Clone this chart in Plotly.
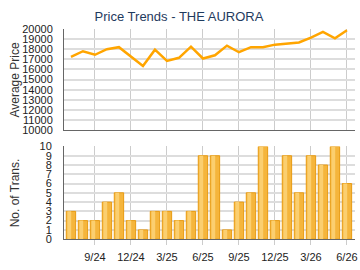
import plotly.graph_objects as go

months = ["7/24","8/24","9/24","10/24","11/24","12/24","1/25","2/25","3/25","4/25","5/25","6/25",
          "7/25","8/25","9/25","10/25","11/25","12/25","1/26","2/26","3/26","4/26","5/26","6/26"]
avg_price = [17250, 17800, 17450, 18000, 18200, 17300, 16350, 17950, 16850, 17150, 18250, 17080,
             17400, 18350, 17700, 18200, 18200, 18450, 18570, 18670, 19150, 19700, 19080, 19870]
transactions = [3, 2, 2, 4, 5, 2, 1, 3, 3, 2, 3, 9, 9, 1, 4, 5, 10, 2, 9, 5, 9, 8, 10, 6]
tick_labels = ["9/24", "12/24", "3/25", "6/25", "9/25", "12/25", "3/26", "6/26"]

idx = list(range(len(months)))
tick_idx = [months.index(t) for t in tick_labels]

W, H = 360, 270
L, R = 64, 5
PW = W - L - R
def ydom(top_px, bot_px):
    return [1 - bot_px / H, 1 - top_px / H]

fig = go.Figure()
fig.add_trace(go.Scatter(x=idx, y=avg_price, mode="lines",
                         line=dict(color="#FFA500", width=2.5),
                         xaxis="x", yaxis="y", hoverinfo="skip"))
fig.add_trace(go.Bar(x=idx, y=transactions, width=0.78,
                     marker=dict(color="#F5B53C", line=dict(color="#E89B12", width=1)),
                     xaxis="x2", yaxis="y2", hoverinfo="skip"))
# highlight stripe for a gradient-like look
fig.add_trace(go.Bar(x=idx, y=transactions, width=0.32, offset=-0.3,
                     marker=dict(color="#FBCF70", line=dict(width=0)),
                     xaxis="x2", yaxis="y2", hoverinfo="skip"))

font_family = "Liberation Sans, Arial, sans-serif"
xr = [-0.58, 23.67]
common_x = dict(range=xr, tickvals=tick_idx, showgrid=True, gridcolor="#CCCCCC", gridwidth=1,
                showline=True, linecolor="#666666", linewidth=1, zeroline=False, fixedrange=True)

title_x = (15 - L) / PW
fig.update_layout(
    width=W, height=H,
    margin=dict(l=L, r=R, t=0, b=0),
    paper_bgcolor="white", plot_bgcolor="white",
    showlegend=False, barmode="overlay",
    font=dict(family=font_family, size=11, color="#333333"),
    title=dict(text="Price Trends - THE AURORA", x=179 / W, xref="container", xanchor="center",
               y=1 - 16 / H, yref="container", yanchor="middle",
               font=dict(size=13, color="#1F3B5E", family=font_family)),
    xaxis=dict(domain=[0, 1], anchor="y", showticklabels=False, ticks="", **common_x),
    yaxis=dict(domain=ydom(24, 130), range=[10000, 20000], dtick=1000, tickformat="d", anchor="x",
               showgrid=True, gridcolor="#DDDDDD", gridwidth=2, zeroline=False,
               showline=True, linecolor="#666666", linewidth=1, ticks="",
               ticklabelstandoff=8,
               tickfont=dict(size=11, color="#222222"), fixedrange=True),
    xaxis2=dict(domain=[0, 1], anchor="y2", ticktext=tick_labels, ticks="outside", ticklen=5,
                tickcolor="#CCCCCC", ticklabelstandoff=3,
                tickfont=dict(size=11, color="#222222"), **common_x),
    yaxis2=dict(domain=ydom(147, 244), range=[0, 10], dtick=1, anchor="x2",
                showgrid=True, gridcolor="#DDDDDD", gridwidth=2, zeroline=False,
                showline=True, linecolor="#666666", linewidth=1, ticks="",
                ticklabelstandoff=9,
                tickfont=dict(size=11, color="#222222"), fixedrange=True),
    annotations=[
        dict(text="Average Price", xref="paper", yref="paper", x=title_x, y=1 - 77 / H,
             xanchor="center", yanchor="middle", textangle=-90, showarrow=False,
             font=dict(size=12, color="#333333")),
        dict(text="No. of Trans.", xref="paper", yref="paper", x=title_x, y=1 - 195 / H,
             xanchor="center", yanchor="middle", textangle=-90, showarrow=False,
             font=dict(size=12, color="#333333")),
    ],
)

fig.write_html("out.html", config=dict(displayModeBar=False))
